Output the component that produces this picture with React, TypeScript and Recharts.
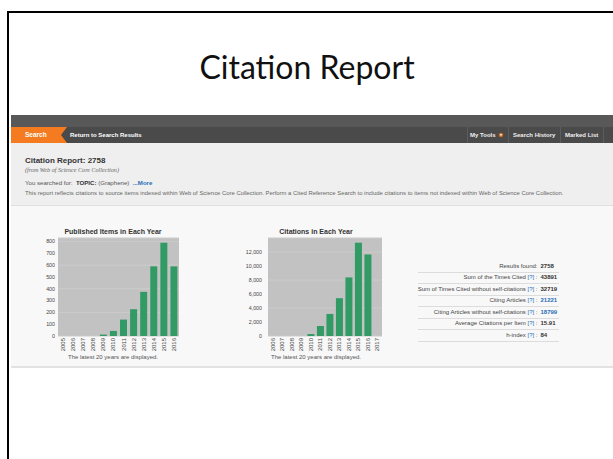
import React from 'react';
import { BarChart, Bar, XAxis, YAxis, CartesianGrid } from 'recharts';

const pubYears = ['2005', '2006', '2007', '2008', '2009', '2010', '2011', '2012', '2013', '2014', '2015', '2016'];
const pubCounts = [0, 0, 0, 0, 12, 43, 139, 227, 374, 590, 790, 590];
const pubTicks = [0, 100, 200, 300, 400, 500, 600, 700, 800];

const citeYears = ['2006', '2007', '2008', '2009', '2010', '2011', '2012', '2013', '2014', '2015', '2016', '2017'];
const citeCounts = [0, 0, 0, 0, 280, 1430, 3150, 5400, 8370, 13330, 11650, 0];
const citeTicks = [0, 2000, 4000, 6000, 8000, 10000, 12000];

const statLabels = [
  'Results found:',
  'Sum of the Times Cited',
  'Sum of Times Cited without self-citations',
  'Citing Articles',
  'Citing Articles without self-citations',
  'Average Citations per Item',
  'h-index',
];
const statValues = ['2758', '43891', '32719', '21221', '18799', '15.91', '84'];
const statHelp = [false, true, true, true, true, true, true];
const statBlue = [false, false, false, true, true, false, false];

const pubData = pubYears.map((year, i) => ({ year, v: pubCounts[i] }));
const citeData = citeYears.map((year, i) => ({ year, v: citeCounts[i] }));

const SANS = '"Liberation Sans", Arial, sans-serif';

const YearTick = (props: any) => {
  const { x, y, payload } = props;
  return (
    <text
      x={x}
      y={y}
      transform={`rotate(-90 ${x} ${y})`}
      textAnchor="end"
      dominantBaseline="central"
      fontSize={6}
      fill="#444"
      fontFamily={SANS}
    >
      {payload.value}
    </text>
  );
};

type TProps = {
  x?: number;
  right?: number;
  cy: number;
  fs: number;
  children: React.ReactNode;
  style?: React.CSSProperties;
};

const T = ({ x, right, cy, fs, children, style }: TProps) => (
  <div
    style={{
      position: 'absolute',
      left: x,
      right: right !== undefined ? 613 - right : undefined,
      top: cy - fs * 0.5,
      fontSize: fs,
      lineHeight: `${fs}px`,
      whiteSpace: 'nowrap',
      fontFamily: SANS,
      color: '#333',
      ...style,
    }}
  >
    {children}
  </div>
);

const Box = ({ l, t, w, h, bg }: { l: number; t: number; w: number; h: number; bg: string }) => (
  <div style={{ position: 'absolute', left: l, top: t, width: w, height: h, background: bg }} />
);

export default function App() {
  return (
    <div style={{ position: 'absolute', left: 0, top: 0, width: 613, height: 459, background: '#fff', overflow: 'hidden' }}>
      {/* slide border */}
      <Box l={7} t={11} w={2} h={448} bg="#000" />
      <Box l={7} t={11} w={606} h={2} bg="#000" />

      {/* slide title */}
      <div
        style={{
          position: 'absolute',
          left: 0,
          width: 614,
          top: 51,
          textAlign: 'center',
          fontFamily: 'Lato, "Noto Sans", sans-serif',
          fontSize: 32,
          lineHeight: '32px',
          color: '#111',
        }}
      >
        Citation Report
      </div>

      {/* screenshot bands */}
      <Box l={11} t={115} w={602} h={12} bg="#585858" />
      <Box l={11} t={127} w={602} h={16} bg="#4a4a4a" />
      <svg style={{ position: 'absolute', left: 0, top: 0 }} width={613} height={150}>
        <polygon points="11,127 67,127 61,135 67,143 11,143" fill="#f47b20" />
        <line x1={467.5} y1={127} x2={467.5} y2={143} stroke="#5c5c5c" />
        <line x1={508.5} y1={127} x2={508.5} y2={143} stroke="#5c5c5c" />
        <line x1={560.5} y1={127} x2={560.5} y2={143} stroke="#5c5c5c" />
        <line x1={603.5} y1={127} x2={603.5} y2={143} stroke="#5c5c5c" />
        <circle cx={501} cy={135} r={2.3} fill="#c8691c" />
        <polygon points="499.6,134.3 502.4,134.3 501,135.9" fill="#fff" />
      </svg>
      <T x={25} cy={135} fs={6.5} style={{ color: '#fff', fontWeight: 700 }}>Search</T>
      <T x={70} cy={135} fs={6} style={{ color: '#fff', fontWeight: 700 }}>Return to Search Results</T>
      <T x={470} cy={135} fs={6} style={{ color: '#f0f0f0', fontWeight: 700 }}>My Tools</T>
      <T x={513} cy={135} fs={6} style={{ color: '#f0f0f0', fontWeight: 700 }}>Search History</T>
      <T x={565} cy={135} fs={6} style={{ color: '#f0f0f0', fontWeight: 700 }}>Marked List</T>

      <Box l={11} t={143} w={602} h={62} bg="#efefef" />
      <Box l={11} t={205} w={602} h={1} bg="#e0e0e0" />
      <Box l={11} t={206} w={602} h={160} bg="#f8f8f8" />
      <Box l={11} t={366} w={602} h={2} bg="#e2e2e2" />

      <T x={25} cy={161} fs={8} style={{ fontWeight: 700, color: '#333' }}>Citation Report: 2758</T>
      <T x={25} cy={170.5} fs={6.1} style={{ fontFamily: '"Liberation Serif", serif', fontStyle: 'italic', color: '#666' }}>
        (from Web of Science Core Collection)
      </T>
      <T x={25} cy={183} fs={6.1} style={{ color: '#555' }}>
        You searched for:&nbsp;&nbsp;<b style={{ color: '#333' }}>TOPIC:</b> (Graphene)&nbsp;&nbsp;
        <b style={{ color: '#2a6db5' }}>...More</b>
      </T>
      <T x={25} cy={194} fs={5.9} style={{ color: '#666' }}>
        This report reflects citations to source items indexed within Web of Science Core Collection. Perform a Cited Reference Search to include citations to items not indexed within Web of Science Core Collection.
      </T>

      {/* left chart */}
      <T x={0} cy={231} fs={7} style={{ width: 226, textAlign: 'center', fontWeight: 700, color: '#333' }}>
        Published Items in Each Year
      </T>
      <div style={{ position: 'absolute', left: 20, top: 225 }}>
        <BarChart width={170} height={140} data={pubData} margin={{ top: 13, right: 11, bottom: 0, left: 0 }} barCategoryGap="15%">
          <CartesianGrid fill="#c2c2c2" stroke="#cbcbcb" vertical={false} />
          <XAxis dataKey="year" interval={0} tickLine={false} axisLine={false} tickSize={0} tickMargin={2} height={29} tick={YearTick} />
          <YAxis
            domain={[0, 830]}
            ticks={pubTicks}
            width={38}
            tickLine={false}
            axisLine={false}
            tickSize={0}
            tickMargin={3}
            tick={{ fontSize: 5.3, fill: '#444', fontFamily: SANS }}
          />
          <Bar dataKey="v" fill="#329a65" isAnimationActive={false} />
        </BarChart>
      </div>
      <T x={0} cy={357} fs={6} style={{ width: 226, textAlign: 'center', color: '#555' }}>
        The latest 20 years are displayed.
      </T>

      {/* right chart */}
      <T x={0} cy={231} fs={7} style={{ left: 216, width: 200, textAlign: 'center', fontWeight: 700, color: '#333' }}>
        Citations in Each Year
      </T>
      <div style={{ position: 'absolute', left: 230, top: 225 }}>
        <BarChart width={160} height={140} data={citeData} margin={{ top: 13, right: 8, bottom: 0, left: 0 }} barCategoryGap="15%">
          <CartesianGrid fill="#c2c2c2" stroke="#cbcbcb" vertical={false} />
          <XAxis dataKey="year" interval={0} tickLine={false} axisLine={false} tickSize={0} tickMargin={2} height={29} tick={YearTick} />
          <YAxis
            domain={[0, 14000]}
            ticks={citeTicks}
            width={38}
            tickLine={false}
            axisLine={false}
            tickSize={0}
            tickMargin={6}
            tickFormatter={(v: number) => v.toLocaleString('en-US')}
            tick={{ fontSize: 5.3, fill: '#444', fontFamily: SANS }}
          />
          <Bar dataKey="v" fill="#329a65" isAnimationActive={false} />
        </BarChart>
      </div>
      <T x={0} cy={357} fs={6} style={{ left: 216, width: 200, textAlign: 'center', color: '#555' }}>
        The latest 20 years are displayed.
      </T>

      {/* stats table */}
      {statLabels.map((label, i) => {
        const cy = 265.7 + i * 11.55;
        return (
          <React.Fragment key={label}>
            <T right={537.5} cy={cy} fs={6} style={{ color: '#444' }}>
              {label}
              {statHelp[i] ? (
                <>
                  {' '}
                  <span style={{ color: '#2a6db5' }}>[?]</span> :
                </>
              ) : null}
            </T>
            <T x={540.5} cy={cy} fs={6} style={{ fontWeight: 700, color: statBlue[i] ? '#2a6db5' : '#333' }}>
              {statValues[i]}
            </T>
            <Box l={418} t={Math.round(cy + 5.8)} w={141} h={1} bg="#dcdcdc" />
          </React.Fragment>
        );
      })}
    </div>
  );
}
